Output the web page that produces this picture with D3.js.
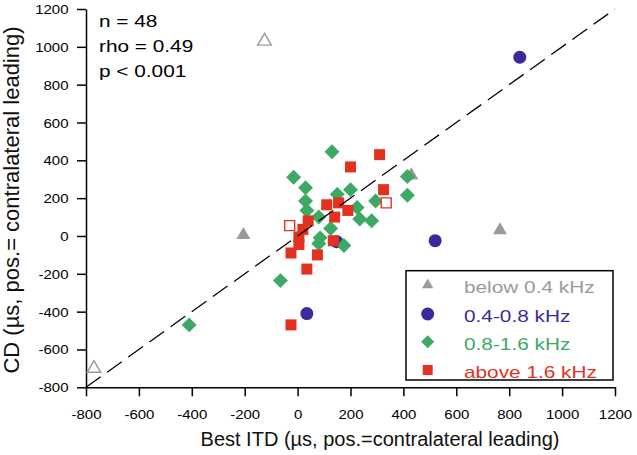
<!DOCTYPE html>
<html>
<head>
<meta charset="utf-8">
<script src="https://cdn.jsdelivr.net/npm/d3@7"></script>
<style>
  html, body { margin: 0; padding: 0; background: #fff; }
  svg { display: block; }
  text { font-family: "Liberation Sans", Arial, sans-serif; }
</style>
</head>
<body>
<svg id="chart" width="637" height="455"></svg>
<script>
// ---- data ----
const xTickValues = [-800, -600, -400, -200, 0, 200, 400, 600, 800, 1000, 1200];
const xTickLabels = ["-800", "-600", "-400", "-200", "0", "200", "400", "600", "800", "1000", "1200"];
const yTickValues = [-800, -600, -400, -200, 0, 200, 400, 600, 800, 1000, 1200];
const yTickLabels = ["-800", "-600", "-400", "-200", "0", "200", "400", "600", "800", "1000", "1200"];

const groupNames = ["below 0.4 kHz", "0.4-0.8 kHz", "0.8-1.6 kHz", "above 1.6 kHz"];
const groupColors = ["#9a9a9a", "#3c2a9c", "#3caa64", "#e2321f"];

// [best ITD, CD, open(1)/filled(0)]
const below04 = [[-205, 5, 0], [765, 30, 0], [430, 320, 0], [-125, 1030, 1], [-770, -700, 1]];
const from04to08 = [[840, 945, 0], [520, -25, 0], [35, -410, 0], [148, -30, 0]];
const from08to16 = [
  [130, 445, 0], [-15, 310, 0], [30, 255, 0], [30, 185, 0], [35, 135, 0],
  [80, 100, 0], [150, 220, 0], [200, 245, 0], [225, 150, 0], [235, 90, 0],
  [280, 80, 0], [295, 185, 0], [415, 315, 0], [415, 215, 0], [125, 40, 0],
  [85, -10, 0], [175, -50, 0], [80, -40, 0], [-65, -236, 0], [-410, -470, 0]
];
const above16 = [
  [310, 430, 0], [200, 365, 0], [325, 245, 0], [110, 165, 0], [155, 175, 0],
  [190, 135, 0], [140, 100, 0], [40, 80, 0], [20, 35, 0], [5, -5, 0],
  [5, -45, 0], [-25, -90, 0], [75, -100, 0], [135, -25, 0], [35, -175, 0],
  [-25, -470, 0], [-30, 55, 1], [335, 175, 1]
];
const statsLines = ["n = 48", "rho = 0.49", "p < 0.001"];
const xTitle = "Best ITD (\u00b5s, pos.=contralateral leading)";
const yTitle = "CD (\u00b5s, pos.= contralateral leading)";

// ---- layout ----
const svg = d3.select("#chart");
const x = d3.scaleLinear().domain([-800, 1200]).range([86, 615]);
const y = d3.scaleLinear().domain([-800, 1200]).range([387.3, 9]);

const tickScale = 1.2;

// x axis
const xAxis = d3.axisBottom(x).tickValues(xTickValues)
  .tickFormat((d, i) => xTickLabels[i]).tickSizeInner(9).tickSizeOuter(0);
const gx = svg.append("g").attr("transform", `translate(0,${y(-800)})`).call(xAxis);
gx.select(".domain").attr("stroke", "#000").attr("stroke-width", 1.5);
gx.selectAll(".tick line").attr("stroke", "#000").attr("stroke-width", 1.5);
gx.selectAll(".tick text").attr("font-size", "12.5px")
  .attr("fill", "#000").attr("font-family", "Liberation Sans, Arial, sans-serif")
  .attr("y", 31.5).attr("dy", 0).attr("transform", `scale(${tickScale},1)`);

// y axis
const yAxis = d3.axisLeft(y).tickValues(yTickValues)
  .tickFormat((d, i) => yTickLabels[i]).tickSizeInner(9).tickSizeOuter(0);
const gy = svg.append("g").attr("transform", `translate(${x(-800)},0)`).call(yAxis);
gy.select(".domain").attr("stroke", "#000").attr("stroke-width", 1.5);
gy.selectAll(".tick line").attr("stroke", "#000").attr("stroke-width", 1.5);
gy.selectAll(".tick text").attr("font-size", "12.5px")
  .attr("fill", "#000").attr("font-family", "Liberation Sans, Arial, sans-serif")
  .attr("x", -17.5 / tickScale).attr("dy", "0.36em").attr("transform", `scale(${tickScale},1)`);
svg.selectAll(".domain").attr("fill", "none");

// axis titles
svg.append("text").attr("x", 380).attr("y", 446).attr("text-anchor", "middle")
  .attr("font-size", "20px").attr("fill", "#111").text(xTitle);
svg.append("text").attr("transform", "translate(18.5,200) rotate(-90)").attr("text-anchor", "middle")
  .attr("font-size", "22px").attr("fill", "#111").text(yTitle);

// stats
svg.append("g").selectAll("text").data(statsLines).join("text")
  .attr("transform", (d, i) => `translate(99,${26.5 + i * 25}) scale(1.3,1)`)
  .attr("font-size", "16px").attr("fill", "#000")
  .text(d => d);

// markers
const sym = {
  tri: d3.symbol().type(d3.symbolTriangle).size(85),
  circ: d3.symbol().type(d3.symbolCircle).size(133),
  diam: d3.symbol().type(d3.symbolSquare).size(112),
  sq: d3.symbol().type(d3.symbolSquare).size(121),
  sqOpen: d3.symbol().type(d3.symbolSquare).size(100)
};
const marks = svg.append("g");
function drawGroup(data, gen, color, rot, genOpen) {
  marks.append("g").selectAll("path").data(data).join("path")
    .attr("d", d => d[2] ? (genOpen || gen)() : gen())
    .attr("transform", d => `translate(${x(d[0])},${y(d[1])})${rot ? " rotate(45)" : ""}`)
    .attr("fill", d => d[2] ? "#fff" : color)
    .attr("stroke", d => d[2] ? color : "none")
    .attr("stroke-width", 1.4);
}
drawGroup(below04, sym.tri, groupColors[0], false, d3.symbol().type(d3.symbolTriangle).size(80));
drawGroup(from04to08, sym.circ, groupColors[1], false);
drawGroup(from08to16, sym.diam, groupColors[2], true);
drawGroup(above16, sym.sq, groupColors[3], false, sym.sqOpen);

// identity line
svg.append("line")
  .attr("x1", x(-800)).attr("y1", y(-800)).attr("x2", x(1200)).attr("y2", y(1200))
  .attr("stroke", "#000").attr("stroke-width", 1.3).attr("stroke-dasharray", "18,8");

// legend
const legend = svg.append("g");
legend.append("rect").attr("x", 406).attr("y", 270.7).attr("width", 207).attr("height", 109.3)
  .attr("fill", "#fff").attr("stroke", "#000").attr("stroke-width", 1.5);
const legendSyms = [
  { gen: d3.symbol().type(d3.symbolTriangle).size(55), rot: false },
  { gen: d3.symbol().type(d3.symbolCircle).size(133), rot: false },
  { gen: d3.symbol().type(d3.symbolSquare).size(85), rot: true },
  { gen: d3.symbol().type(d3.symbolSquare).size(100), rot: false }
];
const rowY = [285, 314, 341.7, 370];
const rows = legend.selectAll("g.row").data(groupNames).join("g").attr("class", "row");
rows.append("path")
  .attr("d", (d, i) => legendSyms[i].gen())
  .attr("transform", (d, i) => `translate(427.7,${rowY[i]})${legendSyms[i].rot ? " rotate(45)" : ""}`)
  .attr("fill", (d, i) => groupColors[i]);
rows.append("text")
  .attr("transform", (d, i) => `translate(464,${rowY[i] + 8}) scale(1.3,1)`)
  .attr("font-size", "16px")
  .attr("fill", (d, i) => groupColors[i])
  .text(d => d);
</script>
</body>
</html>
